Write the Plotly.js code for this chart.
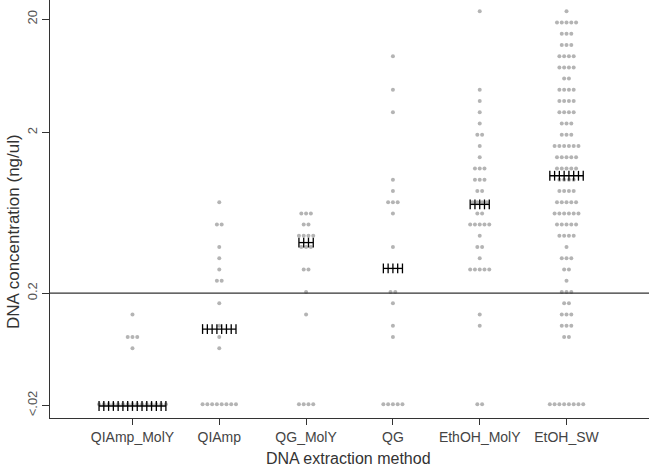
<!DOCTYPE html>
<html>
<head>
<meta charset="utf-8">
<script src="https://cdn.plot.ly/plotly-3.0.1.min.js"></script>
<style>
  html, body { margin: 0; padding: 0; background: #fff; }
  #chart { width: 650px; height: 469px; }
</style>
</head>
<body>
<div id="chart"></div>
<script>
// y values are concentration bins (0 = "<.02", one step per dot row)
const methods = ['QIAmp_MolY', 'QIAmp', 'QG_MolY', 'QG', 'EthOH_MolY', 'EtOH_SW'];

const qiampMolyBins = [0, 5, 6, 8];
const qiampMolyCounts = [15, 1, 3, 1];

const qiampBins = [0, 5, 6, 7, 9, 11, 12, 13, 14, 16, 18];
const qiampCounts = [8, 1, 1, 1, 1, 2, 1, 1, 1, 2, 1];

const qgMolyBins = [0, 8, 10, 12, 14, 15, 16, 17];
const qgMolyCounts = [4, 1, 1, 2, 3, 4, 2, 3];

const qgBins = [0, 6, 7, 9, 10, 14, 17, 18, 19, 20, 26, 28, 31];
const qgCounts = [5, 1, 1, 1, 2, 1, 1, 3, 1, 1, 1, 1, 1];

const ethMolyBins = [0, 7, 8, 12, 13, 14, 15, 16, 17, 18, 19, 20, 21, 22, 23, 24, 25, 26, 27, 28, 35];
const ethMolyCounts = [2, 1, 1, 5, 1, 2, 1, 5, 2, 4, 2, 3, 3, 1, 1, 2, 1, 1, 1, 1, 1];

const etohSwBins = [0, 6, 7, 8, 9, 10, 11, 12, 13, 14, 15, 16, 17, 18, 19, 20, 21, 22, 23, 24, 25, 26, 27, 28, 29, 30, 31, 32, 33, 34, 35];
const etohSwCounts = [8, 2, 3, 3, 2, 3, 1, 2, 3, 1, 4, 5, 6, 5, 4, 4, 5, 5, 6, 3, 3, 4, 4, 4, 2, 4, 4, 3, 3, 5, 1];

const medians = [-0.15, 6.7, 14.4, 12.1, 17.8, 20.35];

const tickBins = [-0.1, 9.9, 24.2, 34.3];
const tickLabels = ['<.02', '0.2', '2', '20'];
const refLineBin = 9.9;

const groups = [
    [qiampMolyBins, qiampMolyCounts],
    [qiampBins, qiampCounts],
    [qgMolyBins, qgMolyCounts],
    [qgBins, qgCounts],
    [ethMolyBins, ethMolyCounts],
    [etohSwBins, etohSwCounts]
];

const dx = 0.055; // horizontal spacing of dots in a row, category units

function spread(center, n) {
    const xs = [];
    for (let j = 0; j < n; j++) xs.push(center + (j - (n - 1) / 2) * dx);
    return xs;
}

const dotX = [], dotY = [];
const traces = [];
groups.forEach(([bins, counts], gi) => {
    bins.forEach((b, bi) => {
        spread(gi + 1, counts[bi]).forEach(x => { dotX.push(x); dotY.push(b); });
    });
});

traces.push({
    x: dotX, y: dotY,
    type: 'scatter', mode: 'markers',
    marker: { color: '#b4b4b4', size: 4 },
    hoverinfo: 'skip'
});

// median: a row of crosses as wide as the widest dot row
groups.forEach(([bins, counts], gi) => {
    const widest = Math.max(...counts);
    const xs = spread(gi + 1, widest);
    traces.push({
        x: xs, y: xs.map(() => medians[gi]),
        type: 'scatter', mode: 'lines+markers',
        line: { color: '#000', width: 1.3 },
        marker: { symbol: 'line-ns', size: 7, line: { color: '#000', width: 1.3 } },
        hoverinfo: 'skip'
    });
});

const font = 'Liberation Sans, Arial, sans-serif';

const layout = {
    width: 650,
    height: 469,
    margin: { l: 50, r: 1, t: 0, b: 51 },
    paper_bgcolor: '#fff',
    plot_bgcolor: '#fff',
    showlegend: false,
    xaxis: {
        range: [0.05, 6.95],
        tickvals: [1, 2, 3, 4, 5, 6],
        ticktext: methods,
        ticks: 'outside',
        ticklen: 6,
        tickcolor: '#333',
        showline: true,
        linecolor: '#333',
        linewidth: 1,
        showgrid: false,
        zeroline: false,
        tickfont: { family: font, size: 14, color: '#444' }
    },
    yaxis: {
        range: [-1.22, 36.0],
        tickvals: tickBins,
        ticktext: tickLabels,
        tickangle: -90,
        ticks: 'outside',
        ticklen: 7,
        tickcolor: '#333',
        showline: true,
        linecolor: '#333',
        linewidth: 1,
        showgrid: false,
        zeroline: false,
        tickfont: { family: font, size: 13, color: '#555' }
    },
    shapes: [{
        type: 'line', xref: 'paper', x0: 0, x1: 1,
        yref: 'y', y0: refLineBin, y1: refLineBin,
        line: { color: '#333', width: 1.3 }
    }],
    annotations: [
        {
            text: 'DNA concentration (ng/ul)',
            xref: 'paper', yref: 'paper', x: (13 - 50) / 599, y: 1 - 232 / 418,
            xanchor: 'center', yanchor: 'middle', textangle: -90,
            showarrow: false,
            font: { family: font, size: 17, color: '#333' }
        },
        {
            text: 'DNA extraction method',
            xref: 'paper', yref: 'paper', x: (348 - 50) / 599, y: -40 / 418,
            xanchor: 'center', yanchor: 'middle',
            showarrow: false,
            font: { family: font, size: 16, color: '#333' }
        }
    ]
};

Plotly.newPlot('chart', traces, layout, { displayModeBar: false, staticPlot: true });
</script>
</body>
</html>
